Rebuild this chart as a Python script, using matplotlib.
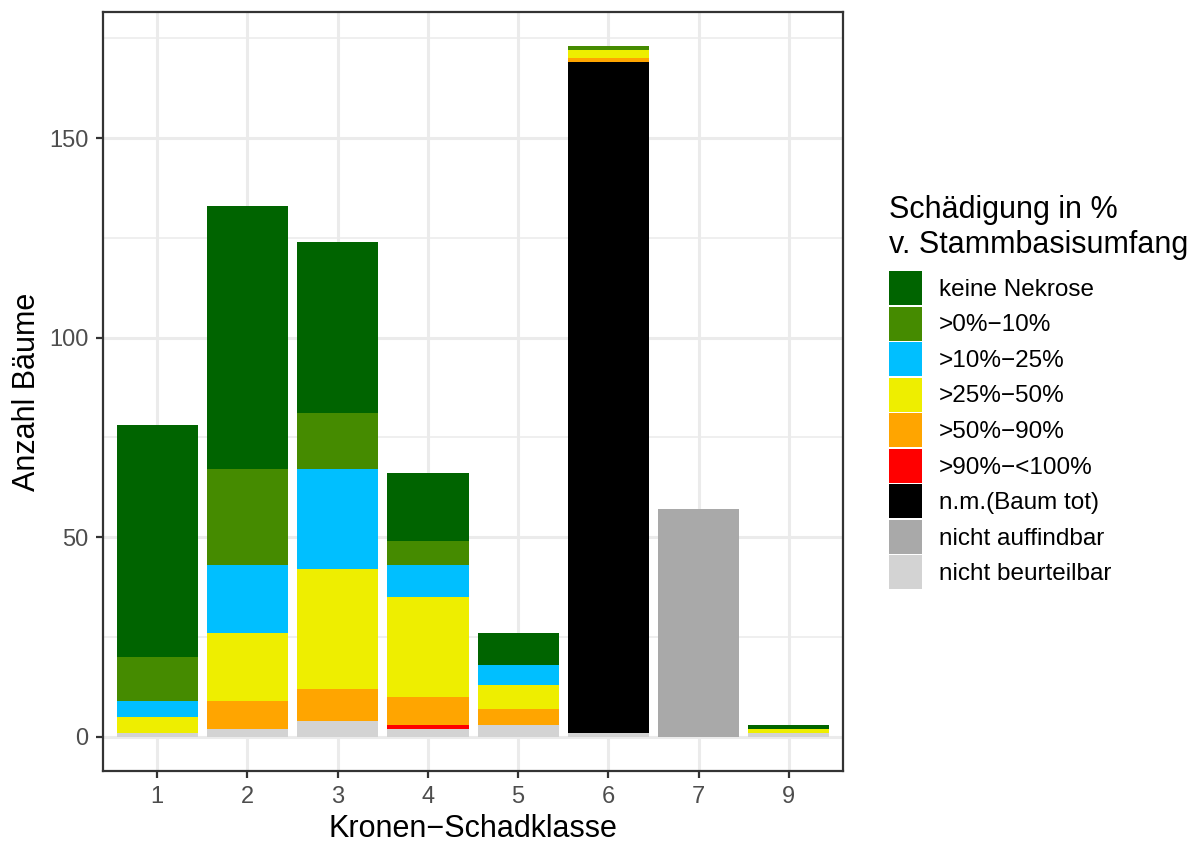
import numpy as np
import matplotlib.pyplot as plt
from matplotlib.patches import Patch

plt.rcParams['font.family'] = ['Liberation Sans', 'DejaVu Sans']

# Kronen-Schadklassen (x axis)
klassen = ['1', '2', '3', '4', '5', '6', '7', '9']

# Anzahl Bäume je Schädigungsstufe und Klasse
keine_nekrose = [58, 66, 43, 17, 8, 0, 0, 1]
p0_10 = [11, 24, 14, 6, 0, 1, 0, 0]
p10_25 = [4, 17, 25, 8, 5, 0, 0, 0]
p25_50 = [4, 17, 30, 25, 6, 2, 0, 1]
p50_90 = [0, 7, 8, 7, 4, 1, 0, 0]
p90_100 = [0, 0, 0, 1, 0, 0, 0, 0]
baum_tot = [0, 0, 0, 0, 0, 168, 0, 0]
nicht_auffindbar = [0, 0, 0, 0, 0, 0, 57, 0]
nicht_beurteilbar = [1, 2, 4, 2, 3, 1, 0, 1]

labels = ['keine Nekrose', '>0%\u221210%', '>10%\u221225%', '>25%\u221250%',
          '>50%\u221290%', '>90%\u2212<100%', 'n.m.(Baum tot)',
          'nicht auffindbar', 'nicht beurteilbar']
series = [keine_nekrose, p0_10, p10_25, p25_50, p50_90, p90_100,
          baum_tot, nicht_auffindbar, nicht_beurteilbar]
colors = ['#006400', '#458B00', '#00BFFF', '#EEEE00', '#FFA500',
          '#FF0000', '#000000', '#A9A9A9', '#D3D3D3']

W, H = 1201, 843
fig = plt.figure(figsize=(W / 100, H / 100), dpi=100)
ax = fig.add_axes([0.0858, 0.0854, 0.6161, 0.9004])

x = np.arange(1, len(klassen) + 1)
bottom = np.zeros(len(klassen))
# stack from the last level upwards, like ggplot does
for vals, col in zip(series[::-1], colors[::-1]):
    vals = np.array(vals, dtype=float)
    ax.bar(x, vals, width=0.9, bottom=bottom, color=col, linewidth=0, zorder=3)
    bottom += vals

ymax = bottom.max()
ax.set_xlim(0.4, len(klassen) + 0.6)
ax.set_ylim(-0.05 * ymax, 1.05 * ymax)
ax.set_xticks(x)
ax.set_xticklabels(klassen)
ax.set_yticks([0, 50, 100, 150])
ax.set_yticks([25, 75, 125, 175], minor=True)

ax.grid(which='major', color='#EBEBEB', linewidth=2.2, zorder=0)
ax.grid(which='minor', color='#EBEBEB', linewidth=1.1, zorder=0)
ax.tick_params(which='major', length=5, width=1.6, color='#333333',
               labelsize=17, labelcolor='#4D4D4D', pad=5.5)
ax.tick_params(which='minor', length=0)
for s in ax.spines.values():
    s.set_color('#333333')
    s.set_linewidth(1.6)

ax.set_xlabel('Kronen\u2212Schadklasse', fontsize=22, labelpad=4.5)
ax.set_ylabel('Anzahl Bäume', fontsize=22, labelpad=5)

# legend title drawn as two lines of text above the keys
fig.text(889 / W, 1 - 218 / H, 'Schädigung in %', fontsize=22, va='baseline')
fig.text(889 / W, 1 - 253 / H, 'v. Stammbasisumfang', fontsize=22, va='baseline')

handles = [Patch(facecolor=c, edgecolor='none') for c in colors]
fig.legend(handles, labels, loc='upper left',
           bbox_to_anchor=(889 / W, 1 - 271 / H),
           frameon=False, fontsize=17.5, borderaxespad=0, borderpad=0,
           handlelength=1.36, handleheight=1.78, labelspacing=0.06,
           handletextpad=0.7)

fig.savefig('out.png', dpi=100)
